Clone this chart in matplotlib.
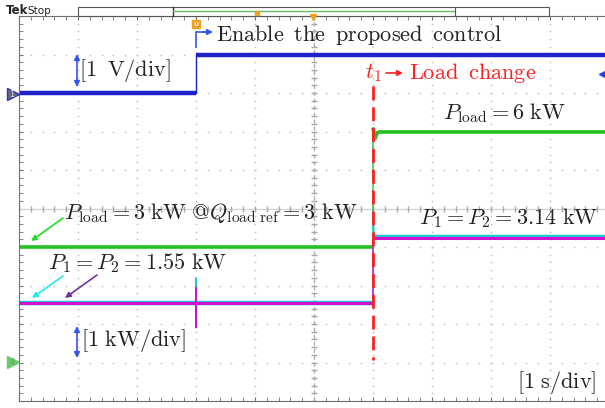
import matplotlib.pyplot as plt
import numpy as np
from matplotlib.patches import Rectangle, FancyArrowPatch

plt.rcParams['mathtext.fontset'] = 'cm'

# horizontal: 1 s/div, 10 divisions; vertical: 10 divisions
t_enable = 3.0
t_load = 6.0

# ch1 - enable signal [V], 1 V/div, shown at 8 div
ch1_time = [0.0, 3.0, 3.0, 9.95]
ch1_volt = [0.0, 0.0, 1.0, 1.0]
ch1_pos = 8.0

# power channels [kW], 1 kW/div, zero at 1 div
p_pos = 1.0
load_time = [0.0, 6.0, 6.0, 6.03, 6.08, 9.95]
p_load = [3.0, 3.0, 6.1, 5.8, 6.0, 6.0]
p1_time = [0.0, 2.995, 3.0, 3.005, 6.0, 6.0, 6.02, 9.95]
p1 = [1.55, 1.55, 2.2, 1.55, 1.55, 3.95, 3.27, 3.27]
p2_time = [0.0, 2.995, 2.998, 3.002, 3.005, 6.0, 6.0, 6.02, 9.95]
p2 = [1.55, 1.55, 1.95, 0.9, 1.55, 1.55, 3.2, 3.24, 3.24]

W, H = 605, 408
fig = plt.figure(figsize=(W / 100, H / 100), dpi=100)
ax = fig.add_axes([19 / W, 7 / H, 586 / W, 385 / H])
ax.set_xlim(0, 586 / 59)
ax.set_ylim(0, 10)

# graticule
for gx in range(1, 10):
    ys = np.arange(0, 10.01, 0.2)
    ax.plot([gx] * len(ys), ys, ls='none', marker='s', ms=1.1, color='#c0c0c0', mew=0)
for gy in range(1, 10):
    xs = np.arange(0, 9.95, 0.2)
    ax.plot(xs, [gy] * len(xs), ls='none', marker='s', ms=1.1, color='#c0c0c0', mew=0)
ax.axhline(5, color='#d4d4d4', lw=1)
ax.plot(np.arange(0, 9.95, 0.2), [5] * 50, ls='none', marker='|', ms=5, color='#a8a8a8')
ax.axvline(5, color='#b0b0b0', lw=1, ls=(0, (3, 2)))
ax.plot([5] * 51, np.arange(0, 10.01, 0.2), ls='none', marker='_', ms=5, color='#a8a8a8')

for s in ['left', 'bottom', 'top']:
    ax.spines[s].set_color('#707070')
ax.spines['right'].set_visible(False)
ax.set_xticks(np.arange(0, 10, 1))
ax.set_xticks(np.arange(0, 9.95, 0.2), minor=True)
ax.set_yticks(np.arange(0, 10.01, 1))
ax.set_yticks(np.arange(0, 10.01, 0.2), minor=True)
ax.tick_params(which='both', direction='in', length=3, color='#707070',
               top=True, labelbottom=False, labelleft=False)


def trace(t, v, color, lw_flat, lw_edge=1.0):
    # thin line for fast edges, thick band for the noisy flat parts
    t = np.asarray(t)
    v = np.asarray(v)
    ax.plot(t, v, color=color, lw=lw_edge)
    for i in range(len(t) - 1):
        if t[i + 1] - t[i] > 0.02:
            ax.plot(t[i:i + 2], v[i:i + 2], color=color, lw=lw_flat,
                    solid_capstyle='butt')


trace(ch1_time, np.array(ch1_volt) + ch1_pos, '#1e22c8', 3.2)
trace(load_time, np.array(p_load) + p_pos, '#22c022', 2.6)
trace(p1_time, np.array(p1) + p_pos, '#20c8d0', 3.2)
trace(p2_time, np.array(p2) + p_pos, '#d010d0', 2.2)
ax.plot([t_load, t_load], [8.18, 1.06], color='#ff2020', lw=2, ls=(0, (5, 2.5)))

# overlay in pixel coordinates
ov = fig.add_axes([0, 0, 1, 1], zorder=5)
ov.set_xlim(0, W)
ov.set_ylim(H, 0)
ov.axis('off')
ov.patch.set_alpha(0)

# top status bar
ov.text(6, 11, 'Tek', fontsize=8.5, fontweight='bold', va='center', color='#222222')
ov.text(27, 11, 'Stop', fontsize=7.5, va='center', color='#222222')
ov.add_patch(Rectangle((78, 7), 471, 9, fill=False, ec='#555555', lw=0.8))
ov.plot([173, 173], [7, 16], color='#333333', lw=1)
ov.plot([173, 455], [11, 11], color='#66bb66', lw=1)
ov.plot([455, 455], [7, 16], color='#555555', lw=0.8)
ov.plot(257, 13, marker='s', ms=3.5, color='#f0a020')
ov.plot(313, 17, marker='v', ms=5, color='#f0a020')
ov.plot(196, 24, marker='s', ms=6, color='#f0a020')
ov.text(196, 24, 'U', fontsize=4.5, color='white', ha='center', va='center', fontweight='bold')

# channel markers
ov.plot(13, 94, marker='>', ms=9, color='#6a6a80', mec='#3030c0')
ov.text(12, 94.5, '1', fontsize=6, ha='center', va='center', color='#dddddd')
ov.plot(13, 362, marker='>', ms=9, color='#66cc66')
ov.text(12, 362.5, '4', fontsize=6, ha='center', va='center', color='#888888')
ov.plot(602, 74, marker='<', ms=5, color='#2040e0')


def arrow(x0, y0, x1, y1, color, style='-|>', lw=1.2, ms=8):
    ov.add_patch(FancyArrowPatch((x0, y0), (x1, y1), arrowstyle=style,
                                 mutation_scale=ms, color=color, lw=lw,
                                 shrinkA=0, shrinkB=0))


fs = 16
tc = '#222222'
arrow(77, 87, 77, 54, '#3355ee', style='<|-|>')
ov.text(79, 70, r'$[1\ \:\mathrm{V/div}]$', fontsize=fs, va='center', color=tc)

ov.plot([196, 196, 205], [47, 32, 32], color='#3355ee', lw=1.2)
arrow(203, 32, 213, 32, '#3355ee')
ov.text(216, 35, r'$\mathrm{Enable\ \:the\ \:proposed\ \:control}$', fontsize=fs,
        va='center', color=tc)

ov.text(365, 73, r'$t_1$', fontsize=fs, va='center', color='#ff2020')
arrow(386, 73, 403, 73, '#ff2020')
ov.text(409, 73, r'$\mathrm{Load\ \:change}$', fontsize=fs, va='center', color='#ff2020')

ov.text(443, 113, r'$P_{\mathrm{load}} = 6\ \mathrm{kW}$', fontsize=fs, va='center', color=tc)

ov.text(64, 213, r'$P_{\mathrm{load}} = 3\ \mathrm{kW}\ @Q_{\mathrm{load\ ref}} = 3\ \mathrm{kW}$',
        fontsize=fs, va='center', color=tc)
arrow(63, 218, 31, 241, '#22dd22')

ov.text(48, 263, r'$P_1 = P_2 = 1.55\ \mathrm{kW}$', fontsize=fs, va='center', color=tc)
arrow(63, 276, 32, 298, '#22e8f0')
arrow(97, 275, 65, 298, '#7030a0')

ov.text(419, 218, r'$P_1 = P_2 = 3.14\ \mathrm{kW}$', fontsize=fs, va='center', color=tc)

arrow(77, 358, 77, 326, '#3355ee', style='<|-|>')
ov.text(81, 340, r'$[1\ \mathrm{kW/div}]$', fontsize=fs, va='center', color=tc)

ov.text(517, 382, r'$[1\ \mathrm{s/div}]$', fontsize=fs, va='center', color=tc)

fig.savefig('out.png', dpi=100)
